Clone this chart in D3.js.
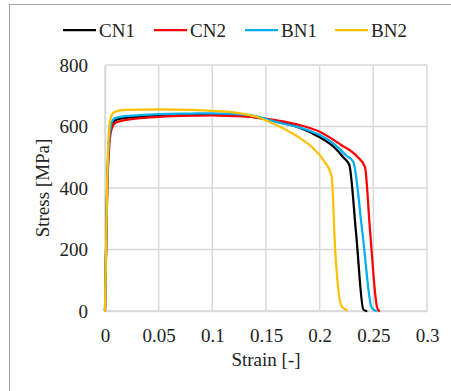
<!DOCTYPE html>
<html>
<head>
<meta charset="utf-8">
<script src="https://cdn.jsdelivr.net/npm/d3@7"></script>
<style>
  html, body { margin: 0; padding: 0; background: #fff; }
  svg { display: block; }
  svg text { font-family: "Times New Roman", "Liberation Serif", Tinos, "DejaVu Serif", serif !important; fill: #222; }
</style>
</head>
<body>
<svg id="chart" width="451" height="391"></svg>
<script>
const seriesNames = ["CN1", "CN2", "BN1", "BN2"];
const seriesColors = ["#000000", "#ff0000", "#00b0f0", "#ffc000"];

const cn1Strain = [0,0.002,0.004,0.006,0.009,0.015,0.03,0.05,0.08,0.1,0.12,0.14,0.16,0.18,0.2,0.213,0.222,0.2276,0.234,0.2407,0.2435];
const cn1Stress = [0,400,560,600,619,626,631,635,638,638,636,630,616,598,565,534,500,475,250,5,0];

const cn2Strain = [0,0.002,0.004,0.006,0.009,0.015,0.03,0.05,0.08,0.1,0.12,0.14,0.16,0.18,0.2,0.22,0.235,0.2422,0.2469,0.2534,0.2553];
const cn2Stress = [0,380,540,590,610,618,626,631,635,636,634,630,620,606,583,540,502,468,263,13,0];

const bn1Strain = [0,0.002,0.004,0.006,0.009,0.015,0.03,0.05,0.08,0.1,0.12,0.14,0.16,0.18,0.2,0.2127,0.225,0.2313,0.24,0.2485,0.2525];
const bn1Stress = [0,400,565,610,627,632,636,640,642,643,641,634,614,598,572,545,505,485,250,10,0];

const bn2Strain = [0,0.002,0.004,0.006,0.008,0.012,0.02,0.05,0.08,0.1,0.12,0.13,0.145,0.163,0.1817,0.1941,0.2034,0.2112,0.2143,0.2205,0.2252];
const bn2Stress = [0,420,600,635,645,651,654,656,654,651,646,640,627,599,562,529,491,437,209,14,3];

const xTicks = [0, 0.05, 0.1, 0.15, 0.2, 0.25, 0.3];
const xTickLabels = ["0", "0.05", "0.1", "0.15", "0.2", "0.25", "0.3"];
const yTicks = [0, 200, 400, 600, 800];
const yTickLabels = ["0", "200", "400", "600", "800"];

const strains = [cn1Strain, cn2Strain, bn1Strain, bn2Strain];
const stresses = [cn1Stress, cn2Stress, bn1Stress, bn2Stress];

const svg = d3.select("#chart");
const plotLeft = 105, plotRight = 427, plotTop = 65, plotBottom = 311;
const serif = "'Times New Roman', 'Liberation Serif', Tinos, 'DejaVu Serif', serif";

const x = d3.scaleLinear().domain([0, 0.3]).range([plotLeft, plotRight]);
const y = d3.scaleLinear().domain([0, 800]).range([plotBottom, plotTop]);

// outer chart border
svg.append("rect").attr("x", 9.5).attr("y", 4.5).attr("width", 600).attr("height", 600)
  .attr("fill", "none").attr("stroke", "#a6a6a6").attr("stroke-width", 1);

// gridlines
const grid = svg.append("g");
grid.selectAll("line.v").data(xTicks).join("line").attr("class", "v")
  .attr("x1", d => x(d)).attr("x2", d => x(d)).attr("y1", plotTop).attr("y2", plotBottom)
  .attr("stroke", "#d9d9d9").attr("stroke-width", 1.5);
grid.selectAll("line.h").data(yTicks).join("line").attr("class", "h")
  .attr("x1", plotLeft).attr("x2", plotRight).attr("y1", d => y(d)).attr("y2", d => y(d))
  .attr("stroke", "#d9d9d9").attr("stroke-width", 1.5);

// axes
const xAxis = d3.axisBottom(x).tickValues(xTicks).tickSize(0).tickPadding(17.5)
  .tickFormat((d, i) => xTickLabels[i]);
const gx = svg.append("g").attr("transform", `translate(0,${plotBottom})`).call(xAxis)
  .attr("font-family", serif).attr("font-size", 19);
gx.select(".domain").attr("stroke", "#d9d9d9").attr("stroke-width", 1.5);
gx.selectAll("text").attr("fill", "#222");

const yAxis = d3.axisLeft(y).tickValues(yTicks).tickSize(0).tickPadding(17)
  .tickFormat((d, i) => yTickLabels[i]);
const gy = svg.append("g").attr("transform", `translate(${plotLeft},0)`).call(yAxis)
  .attr("font-family", serif).attr("font-size", 19);
gy.select(".domain").attr("stroke", "#d9d9d9").attr("stroke-width", 1.5);
gy.selectAll("text").attr("fill", "#222");

// lines
const lineGen = d3.line().x(d => x(d[0])).y(d => y(d[1])).curve(d3.curveMonotoneX);
seriesNames.forEach((name, i) => {
  const pts = strains[i].map((s, j) => [s, stresses[i][j]]);
  svg.append("path").datum(pts)
    .attr("d", lineGen)
    .attr("fill", "none")
    .attr("stroke", seriesColors[i])
    .attr("stroke-width", 2.25)
    .attr("stroke-linejoin", "round")
    .attr("stroke-linecap", "round");
});

// axis titles
svg.append("text").attr("x", (plotLeft + plotRight) / 2).attr("y", 366)
  .attr("text-anchor", "middle").attr("font-family", serif).attr("font-size", 19).text("Strain [-]");
svg.append("text").attr("transform", `translate(49,${(plotTop + plotBottom) / 2}) rotate(-90)`)
  .attr("text-anchor", "middle").attr("font-family", serif).attr("font-size", 19).text("Stress [MPa]");

// legend
const legendX = [63, 154, 245, 335];
const lg = svg.append("g");
seriesNames.forEach((name, i) => {
  lg.append("line").attr("x1", legendX[i]).attr("x2", legendX[i] + 33)
    .attr("y1", 30).attr("y2", 30)
    .attr("stroke", seriesColors[i]).attr("stroke-width", 2.25);
  lg.append("text").attr("x", legendX[i] + 36).attr("y", 36.5)
    .attr("font-family", serif).attr("font-size", 19).text(name);
});
</script>
</body>
</html>
